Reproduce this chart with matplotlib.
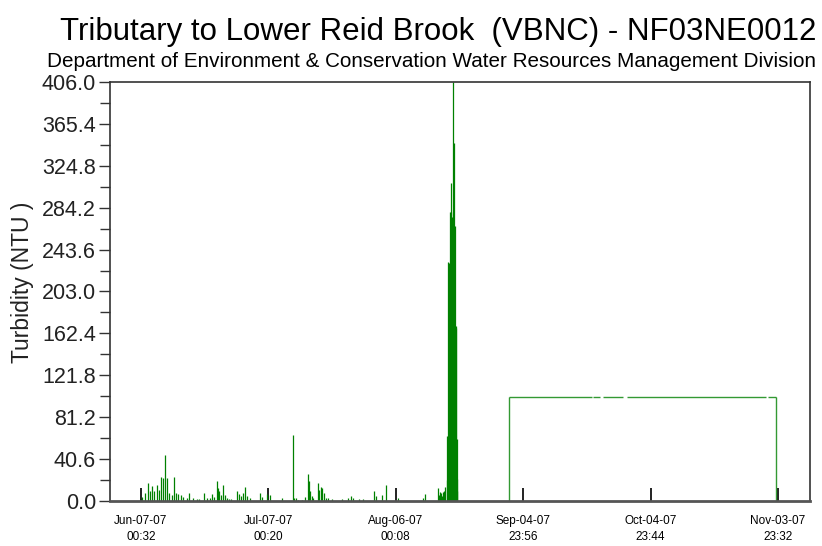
import pandas as pd
import matplotlib
matplotlib.use("Agg")
from matplotlib import pyplot as plt
from matplotlib import dates as mdates

plt.rcParams['font.family'] = ['Liberation Sans', 'DejaVu Sans']

# time axis: day offsets counted from the first labelled tick
start = pd.Timestamp("2007-06-07 00:32")

# turbidity readings (NTU), as day offsets from start
spike_days = [
    0.31, 0.94, 1.57, 2.12, 2.67, 3.14, 3.69, 4.24, 4.71, 5.18, 5.65, 6.12,
    6.67, 7.22, 7.77, 8.32, 8.79, 9.34, 9.97, 10.75, 11.3, 12.3, 13.1, 13.7,
    14.9, 15.5, 16.2, 16.8, 17.3, 17.9, 18.2, 18.4, 18.8, 19.4, 19.8, 20.2,
    20.8, 21.3, 22.5, 23.1, 23.5, 23.9, 24.5, 24.9, 25.7, 28.0, 28.6, 29.6,
    30.4, 33.1, 35.7, 36.1, 36.6, 37.0, 37.8, 38.6, 39.2, 39.5, 39.9, 40.2,
    40.6, 41.6, 41.9, 42.4, 42.7, 43.0, 43.5, 44.1, 44.9, 47.2, 48.8, 49.4,
    50.0, 51.2, 52.3, 54.9, 55.3, 56.7, 57.6, 60.6, 66.4, 66.8,
    69.96, 70.2, 70.45, 70.7, 70.9, 71.15, 71.4, 71.6, 71.95, 72.1, 72.3,
    72.4, 72.5, 72.65, 72.8, 72.9, 73.0, 73.1, 73.25, 73.35, 73.5, 73.6,
    73.75, 73.85, 73.95, 74.05, 74.2, 74.3, 74.4, 74.5,
]
spike_ntu = [
    3.9, 8, 17, 10, 14.5, 10, 15.5, 11, 23, 22, 45, 22,
    8, 6, 23, 8, 7, 6, 4, 3, 8, 2.5, 1.5, 1.5,
    8, 3, 3, 7, 4, 19, 13, 10, 6, 15.5, 6, 3,
    2, 1.5, 10, 7, 5, 8, 13.5, 5, 3, 8, 4, 7,
    6, 2.5, 64, 3, 2.5, 1, 1, 4, 26, 19, 10, 5,
    2.5, 17, 11, 13.5, 13, 8, 3, 2.5, 1.5, 2, 3, 5,
    2.5, 2, 2, 10, 5, 6, 15.5, 3, 2.5, 7,
    13, 6, 9, 8, 5, 9, 10, 14, 63, 20, 232,
    228, 231, 225, 280, 308, 280, 96, 275, 120, 406, 200,
    347, 150, 266, 170, 168, 60, 21, 10,
]

# flat section after the event (broken by a few missing readings)
plateau_ntu = 101.0
plateau_seg_start = [86.62, 106.46, 108.82, 114.32, 147.5]
plateau_seg_end = [106.08, 108.04, 113.52, 147.1, 149.46]

tick_times = [
    "2007-06-07 00:32", "2007-07-07 00:20", "2007-08-06 00:08",
    "2007-09-04 23:56", "2007-10-04 23:44", "2007-11-03 23:32",
]
x_lim = ["2007-05-30 17:20", "2007-11-11 12:15"]
y_max = 406.0
n_yticks = 11

title = "Tributary to Lower Reid Brook  (VBNC) - NF03NE0012"
subtitle = "Department of Environment & Conservation Water Resources Management Division"
ylabel = "Turbidity (NTU )"


def to_num(days):
    ts = start + pd.to_timedelta(days, unit="D")
    return mdates.date2num(pd.DatetimeIndex(ts).to_pydatetime())


green = "#008000"
frame = "#333333"

fig = plt.figure(figsize=(8.22, 5.46), dpi=100)
ax = fig.add_axes([110 / 822, 1 - 501 / 546, 700 / 822, 419 / 546])

ax.vlines(to_num(spike_days), 0, spike_ntu, color=green, lw=0.9)
ax.hlines([plateau_ntu] * len(plateau_seg_start), to_num(plateau_seg_start),
          to_num(plateau_seg_end), color=green, lw=1.0, alpha=0.8)
ax.vlines(to_num([plateau_seg_start[0], plateau_seg_end[-1]]), 0, plateau_ntu,
          color=green, lw=1.0, alpha=0.8)

ax.set_xlim(mdates.date2num(pd.to_datetime(x_lim).to_pydatetime()))
ax.set_ylim(0, y_max)

ticks = mdates.date2num(pd.to_datetime(tick_times).to_pydatetime())
ax.set_xticks(ticks)
ax.xaxis.set_major_formatter(mdates.DateFormatter("%b-%d-%y\n%H:%M"))
ax.tick_params(axis="x", direction="in", length=9.5, width=1.3, color="#111111",
               labelsize=8.5, pad=10)
for lab in ax.get_xticklabels():
    lab.set_linespacing(1.45)

yt = [y_max * i / (n_yticks - 1) for i in range(n_yticks)]
ax.set_yticks(yt)
ax.set_yticks([(a + b) / 2 for a, b in zip(yt[:-1], yt[1:])], minor=True)
ax.set_yticklabels([f"{v:.1f}" for v in yt])
ax.tick_params(axis="y", which="major", direction="out", length=8, width=1.0,
               color=frame, labelsize=15.5, pad=2, labelcolor="#222222")
ax.tick_params(axis="y", which="minor", direction="out", length=7, width=1.0,
               color=frame)

for s in ax.spines.values():
    s.set_color(frame)
    s.set_linewidth(1.2)
ax.spines["bottom"].set_linewidth(2.0)
ax.spines["bottom"].set_color("#555555")

fig.text(438 / 822, 1 - 40 / 546, title, ha="center", va="baseline", fontsize=22.5)
fig.text(431 / 822, 1 - 67 / 546, subtitle, ha="center", va="baseline", fontsize=14.9)
fig.text(22 / 822, 1 - 282 / 546, ylabel, ha="center", va="center",
         rotation=90, fontsize=16.5, color="#222222")

fig.savefig("out.png", dpi=100)
